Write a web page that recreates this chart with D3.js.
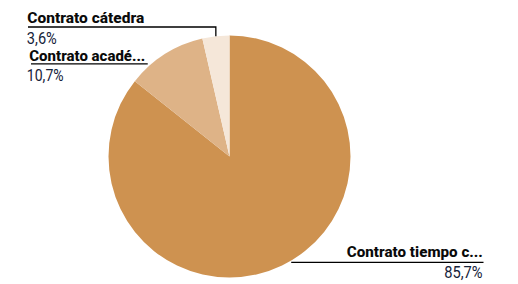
<!DOCTYPE html>
<html><head><meta charset="utf-8">
<script src="https://cdn.jsdelivr.net/npm/d3@7"></script>
<style>
html,body{margin:0;padding:0;background:#fff;}
svg{display:block;}
</style></head>
<body>
<svg id="chart" width="518" height="284"></svg>
<script>
const categories = ["Contrato tiempo completo", "Contrato académico", "Contrato cátedra"];
const shortLabels = ["Contrato tiempo c...", "Contrato acadé...", "Contrato cátedra"];
const values = [85.7, 10.7, 3.6];
const valueLabels = ["85,7%", "10,7%", "3,6%"];
const colors = ["#CE9250", "#DEB387", "#F5E7D9"];

const svg = d3.select("#chart");
const cx = 229.5, cy = 156.5, r = 121;

const pie = d3.pie().sort(null).value(d => d)(values);
const arc = d3.arc().innerRadius(0).outerRadius(r);

const g = svg.append("g").attr("transform", `translate(${cx},${cy})`);
g.selectAll("path").data(pie).join("path")
  .attr("d", arc)
  .attr("fill", (d, i) => colors[i]);

const layout = [
  {x: 482.8, ty: 257.4, anchor: "end", ly: 262.3, lx0: null, lx1: 483.5, vx: 482.6, vy: 278.4, tw: 136, vw: 38.4},
  {x: 29.3, ty: 61, anchor: "start", ly: 63.8, lx0: 31, lx1: null, vx: 26.8, vy: 80.8, tw: 116, vw: 36.8},
  {x: 27.3, ty: 22.7, anchor: "start", ly: 27, lx0: 28, lx1: null, vx: 26.8, vy: 43.8, tw: 117, vw: 30}
];

const fontFam = "Roboto, 'Noto Sans', sans-serif";
const lines = svg.append("g");
pie.forEach((d, i) => {
  const L = layout[i];
  const mid = (d.startAngle + d.endAngle) / 2;
  if (i === 2) {
    const px = Math.sin(mid) * r + cx, py = -Math.cos(mid) * r + cy;
    lines.append("path")
      .attr("d", `M${L.lx0},${L.ly}H${px}V${py}`)
      .attr("fill", "none").attr("stroke", "#000").attr("stroke-width", 1.3);
  } else {
    const dy = L.ly - cy;
    const dx = Math.sqrt(Math.max(0, r * r - dy * dy));
    const right = Math.sin(mid) > 0;
    const ex = right ? cx + dx + 3 : cx - dx - 4;
    const x0 = L.lx0 !== null ? L.lx0 : ex;
    const x1 = L.lx1 !== null ? L.lx1 : ex;
    lines.append("line")
      .attr("x1", x0).attr("x2", x1).attr("y1", L.ly).attr("y2", L.ly)
      .attr("stroke", "#000").attr("stroke-width", 1.3);
  }
  svg.append("text")
    .attr("x", L.x).attr("y", L.ty)
    .attr("text-anchor", L.anchor)
    .attr("font-family", fontFam)
    .attr("font-weight", 800)
    .attr("font-size", 15.5)
    .attr("fill", "#0a0a0a")
    .attr("textLength", L.tw).attr("lengthAdjust", "spacingAndGlyphs")
    .text(shortLabels[i]);
  svg.append("text")
    .attr("x", L.vx)
    .attr("y", L.vy)
    .attr("text-anchor", L.anchor)
    .attr("font-family", fontFam)
    .attr("font-weight", 400)
    .attr("font-size", 16.5)
    .attr("fill", "#16233a")
    .attr("textLength", L.vw).attr("lengthAdjust", "spacingAndGlyphs")
    .text(valueLabels[i]);
});
</script>
</body></html>
